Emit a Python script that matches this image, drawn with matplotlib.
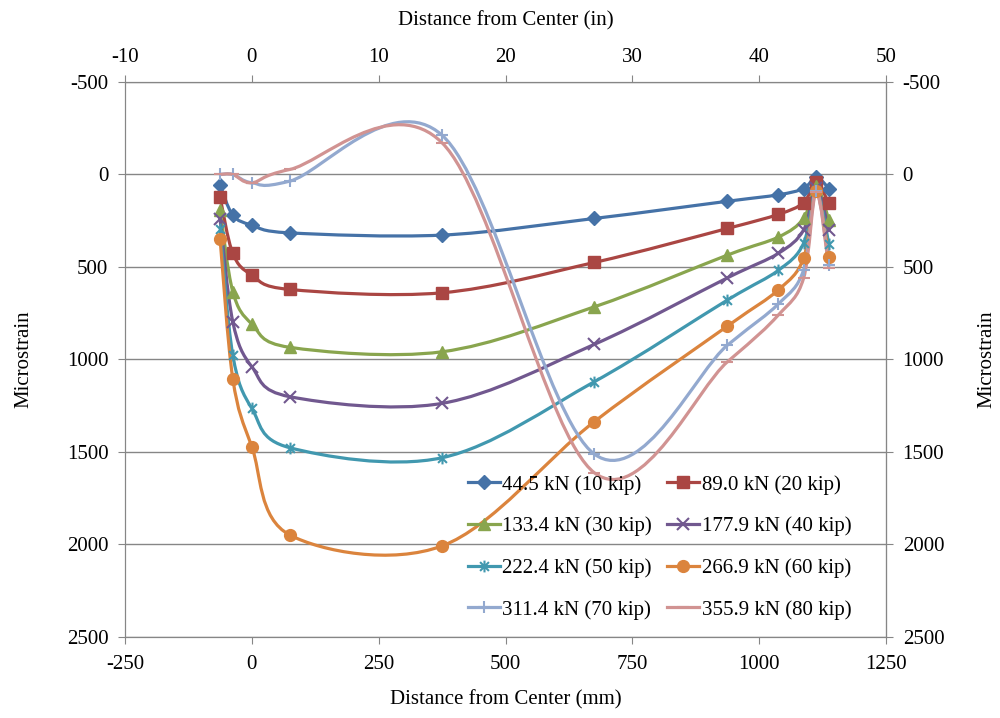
import matplotlib
matplotlib.use("Agg")
import matplotlib.pyplot as plt
import numpy as np
from matplotlib.path import Path
from matplotlib.patches import PathPatch
from matplotlib.lines import Line2D

plt.rcParams['font.family'] = ['Liberation Serif', 'DejaVu Serif']
plt.rcParams['axes.unicode_minus'] = False

# gauge positions (in)
x_in = [-2.5, -1.5, 0, 3, 15, 27, 37.5, 41.5, 43.5, 44.5, 45.5]

# microstrain per load step
s10 = [58, 220, 274, 316, 328, 238, 145, 110, 76, 15, 76]
s20 = [124, 427, 544, 622, 640, 476, 292, 216, 153, 43, 157]
s30 = [193, 634, 809, 935, 959, 716, 436, 339, 238, 65, 247]
s40 = [243, 797, 1040, 1202, 1238, 919, 559, 427, 301, 75, 301]
s50 = [297, 977, 1265, 1478, 1532, 1121, 679, 519, 373, 85, 378]
s60 = [351, 1105, 1472, 1950, 2009, 1337, 820, 625, 454, 90, 445]
s70 = [0, 0, 45, 36, -212, 1512, 923, 701, 517, 90, 490]
s80 = [0, 0, 45, -27, -171, 1613, 1013, 761, 562, 95, 508]

labels = ["44.5 kN (10 kip)", "89.0 kN (20 kip)", "133.4 kN (30 kip)",
          "177.9 kN (40 kip)", "222.4 kN (50 kip)", "266.9 kN (60 kip)",
          "311.4 kN (70 kip)", "355.9 kN (80 kip)"]

mm_ticks = [-250, 0, 250, 500, 750, 1000, 1250]
in_ticks = [-10, 0, 10, 20, 30, 40, 50]
ue_ticks = [-500, 0, 500, 1000, 1500, 2000, 2500]

colors = ["#4572A7", "#AA4643", "#89A54E", "#71588F",
          "#4198AF", "#DB843D", "#93A9CF", "#D19392"]

star = Path([(0, -1), (0, 1), (-0.75, -0.75), (0.75, 0.75), (-0.75, 0.75), (0.75, -0.75)],
            [Path.MOVETO, Path.LINETO] * 3)
markers = ["D", "s", "^", "x", star, "o", "+", "_"]
msizes = [7, 8, 8, 8, 8.5, 8.5, 8.5, 8.5]


def smooth_path(x, y):
    # Excel-style smoothed line: cubic Bezier through the points
    pts = np.column_stack([x, y]).astype(float)
    n = len(pts)
    verts = [pts[0]]
    codes = [Path.MOVETO]
    for i in range(n - 1):
        p0 = pts[max(i - 1, 0)]
        p1 = pts[i]
        p2 = pts[i + 1]
        p3 = pts[min(i + 2, n - 1)]
        verts += [p1 + (p2 - p0) / 6, p2 - (p3 - p1) / 6, p2]
        codes += [Path.CURVE4] * 3
    return Path(verts, codes)


def main():
    gray = "#868686"
    fs = 15
    fig = plt.figure(figsize=(10, 7.18), dpi=100)
    ax = fig.add_axes([0.125, 0.1132, 0.761, 0.7726])

    ax.set_xlim(-250, 1250)
    ax.set_ylim(2500, -500)
    ax.set_xticks(mm_ticks)
    ax.set_yticks(ue_ticks)
    ax.yaxis.grid(True, color=gray, lw=1)
    ax.set_axisbelow(True)
    ax.set_xlabel("Distance from Center (mm)", fontsize=fs, labelpad=11)
    ax.set_ylabel("Microstrain", fontsize=fs, labelpad=24)
    ax.tick_params(direction="out", length=5, color=gray, labelsize=fs, pad=7)
    ax.tick_params(axis="x", pad=8.5)

    axr = ax.secondary_yaxis("right")
    axr.set_yticks(ue_ticks)
    axr.set_ylabel("Microstrain", fontsize=fs, labelpad=24)
    axr.tick_params(direction="out", length=5, color=gray, labelsize=fs, pad=7)

    axt = ax.twiny()
    axt.set_xlim(-10, 50)
    axt.set_xticks(in_ticks)
    axt.set_xlabel("Distance from Center (in)", fontsize=fs, labelpad=16)
    axt.tick_params(direction="out", length=5, color=gray, labelsize=fs, pad=6)

    for a in (ax, axt):
        for sp in a.spines.values():
            sp.set_color(gray)
    axr.spines["right"].set_color(gray)

    series = [s10, s20, s30, s40, s50, s60, s70, s80]
    handles = []
    for s, c, m, ms, lab in zip(series, colors, markers, msizes, labels):
        axt.add_patch(PathPatch(smooth_path(x_in, s), facecolor="none",
                                edgecolor=c, lw=2.3))
        mew = 1.5 if m in ("x", "+", "_") or m is star else 1
        axt.plot(x_in, s, ls="none", marker=m, ms=ms, color=c, mec=c, mew=mew)
        handles.append(Line2D([], [], color=c, lw=2.3, marker=m, ms=ms,
                              mec=c, mew=mew, label=lab))
    axt.set_ylim(2500, -500)

    # legend filled row by row like the original
    order = [0, 2, 4, 6, 1, 3, 5, 7]
    fig.legend(handles=[handles[i] for i in order], ncol=2, frameon=False,
               fontsize=fs, loc="upper left",
               bbox_to_anchor=(0.468, 1 - 475 / 718),
               borderaxespad=0, borderpad=0, handlelength=1.55,
               handletextpad=0.1, labelspacing=1.05, columnspacing=0.72)

    fig.savefig("out.png", dpi=100)


if __name__ == "__main__":
    main()
